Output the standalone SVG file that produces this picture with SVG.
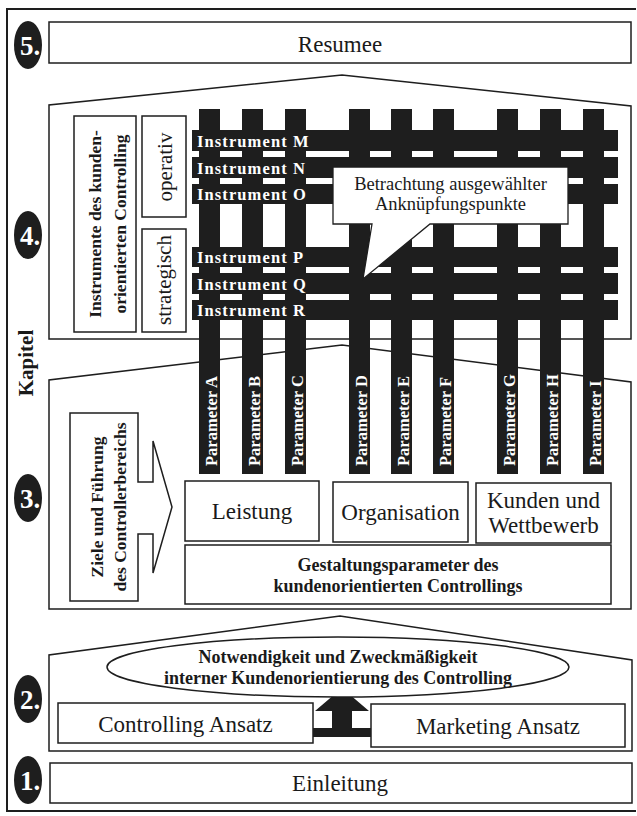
<svg xmlns="http://www.w3.org/2000/svg" width="637" height="816" viewBox="0 0 637 816">
<style>
.bx{fill:#fff;stroke:#1e1e1e;stroke-width:1.5}
.blk{fill:#1e1e1e}
.t{font-family:"Liberation Serif","Times New Roman",serif;fill:#1a1a1a}
.b{font-weight:bold}
.w{fill:#fff}
.num{font-family:"Liberation Serif","Times New Roman",serif;font-weight:bold;font-size:27px;fill:#fff}
.ins{font-family:"Liberation Serif","Times New Roman",serif;font-weight:bold;font-size:16.5px;fill:#fff;letter-spacing:1.1px}
.par{font-family:"Liberation Serif","Times New Roman",serif;font-weight:bold;font-size:16.5px;fill:#fff}
</style>
<rect width="637" height="816" fill="#fff"/>
<path id="frame" d="M636,9 H7 V811 H636" fill="none" stroke="#1e1e1e" stroke-width="2"/>
<g id="kapitel"><text class="t b" font-size="21" text-anchor="middle" transform="translate(33,363) rotate(-90)">Kapitel</text></g>

<!-- Chapter 5 -->
<g id="badge5"><ellipse class="blk" cx="28" cy="45" rx="14" ry="24"/><text class="num" x="20" y="55">5.</text></g>
<g id="resumee"><rect class="bx" x="49" y="22" width="582" height="41"/><text class="t" font-size="23" x="340" y="52" text-anchor="middle">Resumee</text></g>

<!-- Chapter 4 -->
<g id="chapter4"><path class="bx" d="M49,339 V105 L342,75 L631,106 V339 Z"/></g>
<g id="badge4"><ellipse class="blk" cx="28" cy="235" rx="14" ry="24"/><text class="num" x="20" y="245">4.</text></g>
<g id="instrumente"><rect class="bx" x="74" y="116" width="62" height="216"/>
<text class="t b" font-size="17.5" text-anchor="middle" transform="translate(101,224) rotate(-90)">Instrumente des kunden-</text>
<text class="t b" font-size="17.5" text-anchor="middle" transform="translate(126,224) rotate(-90)">orientierten Controlling</text></g>
<g id="operativ"><rect class="bx" x="142" y="116" width="44" height="101"/><text class="t" font-size="21" text-anchor="middle" transform="translate(172,167) rotate(-90)">operativ</text></g>
<g id="strategisch"><rect class="bx" x="142" y="229" width="44" height="103"/><text class="t" font-size="21" text-anchor="middle" transform="translate(171,280) rotate(-90)">strategisch</text></g>

<!-- Chapter 3 -->
<g id="chapter3"><path class="bx" d="M49,609 V380 L342,345 L631,382 V609 Z"/></g>
<g id="badge3"><ellipse class="blk" cx="28" cy="498" rx="14" ry="24"/><text class="num" x="20" y="508">3.</text></g>
<g id="ziele"><path class="bx" d="M70,413 H138 V482 H153 V441 L172,507 L153,573 V534 H138 V601 H70 Z"/>
<text class="t b" font-size="17.5" text-anchor="middle" transform="translate(103,507) rotate(-90)">Ziele und Führung</text>
<text class="t b" font-size="17.5" text-anchor="middle" transform="translate(126,507) rotate(-90)">des Controllerbereichs</text></g>
<g id="leistung"><rect class="bx" x="185" y="481" width="134" height="60"/><text class="t" font-size="23" x="252" y="519" text-anchor="middle">Leistung</text></g>
<g id="organisation"><rect class="bx" x="333" y="482" width="135" height="60"/><text class="t" font-size="23" x="400.5" y="520" text-anchor="middle">Organisation</text></g>
<g id="kunden"><rect class="bx" x="476" y="483" width="135" height="60"/><text class="t" font-size="23" x="543.5" y="508" text-anchor="middle">Kunden und</text><text class="t" font-size="23" x="543.5" y="533" text-anchor="middle">Wettbewerb</text></g>
<g id="gestaltung"><rect class="bx" x="185" y="545" width="426" height="59"/><text class="t b" font-size="18" x="398" y="571" text-anchor="middle">Gestaltungsparameter des</text><text class="t b" font-size="18" x="398" y="592" text-anchor="middle">kundenorientierten Controllings</text></g>

<!-- Grid of parameters and instruments -->
<g id="parameters">
<rect class="blk" x="199" y="109" width="21" height="365"/>
<rect class="blk" x="242" y="109" width="21" height="365"/>
<rect class="blk" x="285" y="109" width="21" height="365"/>
<rect class="blk" x="349" y="109" width="21" height="365"/>
<rect class="blk" x="391" y="109" width="21" height="365"/>
<rect class="blk" x="433" y="109" width="21" height="365"/>
<rect class="blk" x="497" y="109" width="21" height="365"/>
<rect class="blk" x="540" y="109" width="21" height="365"/>
<rect class="blk" x="583" y="109" width="21" height="365"/>
<text class="par" transform="translate(216.5,466) rotate(-90)">Parameter A</text>
<text class="par" transform="translate(259.5,466) rotate(-90)">Parameter B</text>
<text class="par" transform="translate(302.5,466) rotate(-90)">Parameter C</text>
<text class="par" transform="translate(366.5,466) rotate(-90)">Parameter D</text>
<text class="par" transform="translate(408.5,466) rotate(-90)">Parameter E</text>
<text class="par" transform="translate(450.5,466) rotate(-90)">Parameter F</text>
<text class="par" transform="translate(514.5,466) rotate(-90)">Parameter G</text>
<text class="par" transform="translate(557.5,466) rotate(-90)">Parameter H</text>
<text class="par" transform="translate(600.5,466) rotate(-90)">Parameter I</text>
</g>
<g id="instruments">
<rect class="blk" x="192" y="130" width="426" height="21"/>
<rect class="blk" x="192" y="157" width="426" height="21"/>
<rect class="blk" x="192" y="184" width="426" height="20"/>
<rect class="blk" x="192" y="247" width="426" height="20"/>
<rect class="blk" x="192" y="273" width="426" height="21"/>
<rect class="blk" x="192" y="300" width="426" height="20"/>
<text class="ins" x="197" y="147">Instrument M</text>
<text class="ins" x="197" y="174">Instrument N</text>
<text class="ins" x="197" y="200">Instrument O</text>
<text class="ins" x="197" y="263">Instrument P</text>
<text class="ins" x="197" y="290">Instrument Q</text>
<text class="ins" x="197" y="316">Instrument R</text>
</g>
<g id="callout"><path d="M333,167 H568 V224 H430 L363,279 L372,224 H333 Z" fill="#fff" stroke="#1e1e1e" stroke-width="1.3"/>
<text class="t" font-size="18.5" x="450.5" y="190" text-anchor="middle">Betrachtung ausgewählter</text>
<text class="t" font-size="18.5" x="450.5" y="210" text-anchor="middle">Anknüpfungspunkte</text></g>

<!-- Chapter 2 -->
<g id="chapter2"><path class="bx" d="M49,751 V655 L340,616 L632,660 V751 Z"/></g>
<g id="badge2"><ellipse class="blk" cx="28" cy="699" rx="14" ry="24"/><text class="num" x="20" y="709">2.</text></g>
<g id="controlling-ansatz"><rect class="bx" x="58" y="703" width="255" height="40"/><text class="t" font-size="23" x="185.5" y="732" text-anchor="middle">Controlling Ansatz</text></g>
<g id="marketing-ansatz"><rect class="bx" x="371" y="704" width="254" height="43"/><text class="t" font-size="23" x="498" y="734" text-anchor="middle">Marketing Ansatz</text></g>
<g id="connectors"><path class="blk" d="M313,728 H332 V711 H315 L342,688 L369,711 H352 V728 H371 V737 H313 Z"/></g>
<g id="notwendigkeit"><ellipse cx="338" cy="667" rx="231" ry="30" fill="#fff" stroke="#1e1e1e" stroke-width="1.5"/>
<text class="t b" font-size="18" x="338" y="663" text-anchor="middle">Notwendigkeit und Zweckmäßigkeit</text>
<text class="t b" font-size="18" x="338" y="684" text-anchor="middle">interner Kundenorientierung des Controlling</text></g>

<!-- Chapter 1 -->
<g id="badge1"><ellipse class="blk" cx="28" cy="780" rx="14" ry="24"/><text class="num" x="20" y="790">1.</text></g>
<g id="einleitung"><rect class="bx" x="50" y="763" width="582" height="40"/><text class="t" font-size="23" x="340" y="791" text-anchor="middle">Einleitung</text></g>
</svg>
